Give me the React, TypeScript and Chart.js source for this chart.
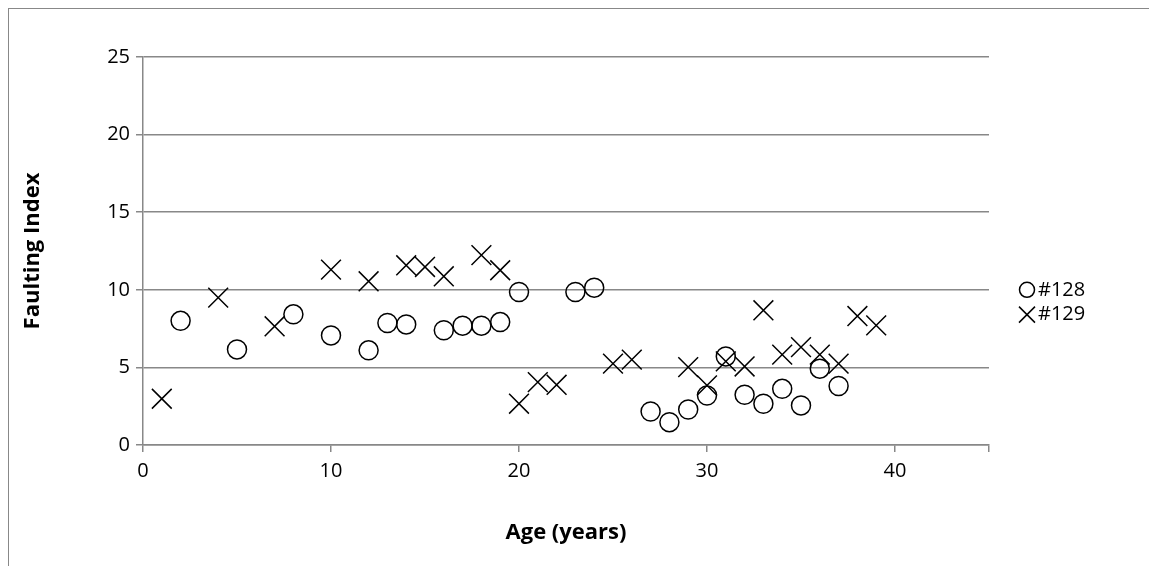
import React from 'react';
import { Chart, registerables } from 'chart.js';
Chart.register(...registerables);

const ages128 = [2, 5, 8, 10, 12, 13, 14, 16, 17, 18, 19, 20, 23, 24, 27, 28, 29, 30, 31, 32, 33, 34, 35, 36, 37];
const values128 = [8.0, 6.16, 8.42, 7.06, 6.1, 7.86, 7.77, 7.39, 7.69, 7.69, 7.92, 9.86, 9.86, 10.14, 2.16, 1.47, 2.29, 3.19, 5.71, 3.24, 2.66, 3.62, 2.55, 4.92, 3.8];
const ages129 = [1, 4, 7, 10, 12, 14, 15, 16, 18, 19, 20, 21, 22, 25, 26, 29, 30, 31, 32, 33, 34, 35, 36, 37, 38, 39];
const values129 = [2.98, 9.5, 7.65, 11.3, 10.55, 11.58, 11.47, 10.87, 12.23, 11.26, 2.66, 4.05, 3.88, 5.24, 5.5, 5.02, 3.84, 5.39, 5.06, 8.68, 5.82, 6.31, 5.82, 5.24, 8.31, 7.71];
const seriesNames = ['#128', '#129'];

const FONT = "'Open Sans', 'Liberation Sans', sans-serif";

const legendPlugin = {
  id: 'sideLegend',
  afterDraw(chart) {
    const ctx = chart.ctx;
    const x = chart.chartArea.right + 38;
    const rows = [chart.scales.y.getPixelForValue(10), chart.scales.y.getPixelForValue(8.4)];
    ctx.save();
    ctx.strokeStyle = '#000';
    ctx.lineWidth = 1.5;
    ctx.fillStyle = '#000';
    ctx.font = `20px ${FONT}`;
    ctx.textBaseline = 'middle';
    ctx.beginPath();
    ctx.arc(x, rows[0], 7.5, 0, Math.PI * 2);
    ctx.stroke();
    ctx.beginPath();
    ctx.moveTo(x - 8, rows[1] - 8);
    ctx.lineTo(x + 8, rows[1] + 8);
    ctx.moveTo(x + 8, rows[1] - 8);
    ctx.lineTo(x - 8, rows[1] + 8);
    ctx.stroke();
    ctx.fillText(seriesNames[0], x + 11, rows[0]);
    ctx.fillText(seriesNames[1], x + 11, rows[1]);
    ctx.restore();
  },
};

export default function App() {
  const canvasRef = React.useRef<HTMLCanvasElement>(null);
  const chartRef = React.useRef<Chart | null>(null);

  React.useEffect(() => {
    if (!canvasRef.current) return;
    if (chartRef.current) chartRef.current.destroy();
    chartRef.current = new Chart(canvasRef.current, {
      type: 'scatter',
      data: {
        datasets: [
          {
            label: seriesNames[0],
            data: ages128.map((a, i) => ({ x: a, y: values128[i] })),
            pointStyle: 'circle',
            pointRadius: 9.5,
            borderColor: '#000',
            backgroundColor: 'rgba(0,0,0,0)',
            borderWidth: 1.5,
          },
          {
            label: seriesNames[1],
            data: ages129.map((a, i) => ({ x: a, y: values129[i] })),
            pointStyle: 'crossRot',
            pointRadius: 14,
            borderColor: '#000',
            backgroundColor: '#000',
            borderWidth: 1.5,
          },
        ],
      },
      options: {
        animation: false,
        responsive: false,
        layout: { padding: { left: 0, top: 57, right: 160, bottom: 0 } },
        plugins: { legend: { display: false }, tooltip: { enabled: false } },
        scales: {
          x: {
            type: 'linear',
            min: 0,
            max: 45,
            afterFit: (s) => { s.height = 121; },
            ticks: { stepSize: 10, color: '#000', font: { family: FONT, size: 20 }, padding: 7, callback: (v) => (v === 45 ? '' : v) },
            grid: { drawOnChartArea: false, color: '#888', lineWidth: 1.5, tickLength: 7 },
            border: { color: '#888', width: 1.5 },
            title: { display: true, text: 'Age (years)', color: '#000', font: { family: FONT, size: 22, weight: 'bold' }, padding: { top: 0, bottom: 20 } },
          },
          y: {
            min: 0,
            max: 25,
            afterFit: (s) => { s.width = 143; },
            ticks: { stepSize: 5, color: '#000', font: { family: FONT, size: 20 }, padding: 6 },
            grid: { color: '#888', lineWidth: 1.5, tickLength: 7 },
            border: { color: '#888', width: 1.5 },
            title: { display: true, text: 'Faulting Index', color: '#000', font: { family: FONT, size: 22, weight: 'bold' }, padding: { top: 20, bottom: 0 } },
          },
        },
      },
      plugins: [legendPlugin],
    });
    return () => {
      if (chartRef.current) chartRef.current.destroy();
      chartRef.current = null;
    };
  }, []);

  return (
    <div style={{ position: 'absolute', left: 0, top: 0, width: 1149, height: 566, background: '#fff' }}>
      <div style={{ position: 'absolute', left: 8, top: 8, width: 1160, height: 600, border: '1px solid #888' }} />
      <canvas ref={canvasRef} width={1149} height={566} style={{ position: 'absolute', left: 0, top: 0 }} />
    </div>
  );
}
